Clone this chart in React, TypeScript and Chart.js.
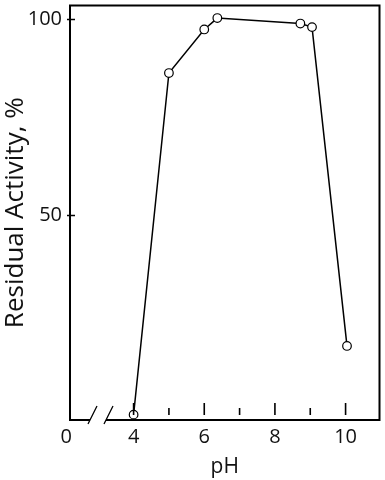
import React, { useEffect, useRef } from "react";
import { Chart, registerables } from "chart.js";

Chart.register(...registerables);

// Data
const phValues = [4.0, 5.0, 6.0, 6.37, 8.72, 9.05, 10.04];
const residualActivity = [-0.8, 86.2, 97.3, 100.2, 98.8, 97.9, 16.7];

// Axis tick definitions
const xTickValues = [2.09, 4, 6, 8, 10];
const xTickLabels = ["0", "4", "6", "8", "10"];
const xMajorMarks = [4, 6, 8, 10];
const xMinorMarks = [5, 7, 9];
const yTickValues = [50, 100];

const FONT = "'Open Sans', 'DejaVu Sans', sans-serif";

const framePlugin = {
  id: "frame",
  afterDraw(chart: any) {
    const { ctx, chartArea } = chart;
    const xs = chart.scales.x;
    const ys = chart.scales.y;
    const { left, right, top, bottom } = chartArea;
    ctx.save();
    ctx.strokeStyle = "#000";
    ctx.lineCap = "butt";

    // frame with a break in the bottom axis
    const b1 = left + 20;
    const b2 = left + 36;
    ctx.lineWidth = 2;
    ctx.beginPath();
    ctx.moveTo(b1, bottom);
    ctx.lineTo(left, bottom);
    ctx.lineTo(left, top);
    ctx.lineTo(right, top);
    ctx.lineTo(right, bottom);
    ctx.lineTo(b2, bottom);
    ctx.stroke();

    // break slashes
    ctx.lineWidth = 1.3;
    ctx.beginPath();
    ctx.moveTo(left + 18, bottom + 4);
    ctx.lineTo(left + 27, bottom - 14);
    ctx.moveTo(left + 34, bottom + 4);
    ctx.lineTo(left + 43, bottom - 14);
    ctx.stroke();

    // y tick marks crossing the axis
    ctx.lineWidth = 1.3;
    ctx.beginPath();
    for (const v of yTickValues) {
      const py = Math.round(ys.getPixelForValue(v)) + 0.5;
      ctx.moveTo(left - 3, py);
      ctx.lineTo(left + 5, py);
    }
    ctx.stroke();

    // x tick marks inside the frame
    ctx.lineWidth = 1.6;
    ctx.beginPath();
    for (const v of xMajorMarks) {
      const px = xs.getPixelForValue(v);
      ctx.moveTo(px, bottom - 17);
      ctx.lineTo(px, bottom - 5);
    }
    for (const v of xMinorMarks) {
      const px = xs.getPixelForValue(v);
      ctx.moveTo(px, bottom - 12);
      ctx.lineTo(px, bottom - 5);
    }
    ctx.stroke();
    ctx.restore();
  },
};

export default function App() {
  const ref = useRef<HTMLCanvasElement | null>(null);

  useEffect(() => {
    if (!ref.current) return;
    const chart = new Chart(ref.current, {
      type: "line",
      data: {
        datasets: [
          {
            data: phValues.map((x, i) => ({ x, y: residualActivity[i] })),
            borderColor: "#000",
            borderWidth: 1.5,
            pointRadius: 4.3,
            pointBorderWidth: 1.2,
            pointBorderColor: "#000",
            pointBackgroundColor: "#fff",
            tension: 0,
            clip: false as any,
          },
        ],
      },
      options: {
        animation: false,
        responsive: false,
        devicePixelRatio: 1,
        layout: { padding: { top: 5, right: 4, left: 0, bottom: 0 } },
        plugins: { legend: { display: false }, tooltip: { enabled: false } },
        scales: {
          x: {
            type: "linear",
            min: 2.2,
            max: 10.96,
            grid: { display: false, drawTicks: false },
            border: { display: false },
            afterBuildTicks: (scale: any) => {
              scale.ticks = xTickValues.map((value) => ({ value }));
            },
            afterFit: (scale: any) => {
              scale.height = 60;
              scale.paddingLeft = 0;
              scale.paddingRight = 0;
            },
            ticks: {
              autoSkip: false,
              maxRotation: 0,
              padding: 5,
              color: "#111",
              font: { family: FONT, size: 20 },
              callback: (_v: any, i: number) => xTickLabels[i],
            },
            title: {
              display: true,
              text: "pH",
              color: "#111",
              font: { family: FONT, size: 21 },
              padding: { top: 0, bottom: 0 },
            },
          },
          y: {
            type: "linear",
            min: -2.16,
            max: 103.4,
            grid: { display: false, drawTicks: false },
            border: { display: false },
            afterBuildTicks: (scale: any) => {
              scale.ticks = yTickValues.map((value) => ({ value }));
            },
            afterFit: (scale: any) => {
              scale.width = 70;
              scale.paddingTop = 0;
              scale.paddingBottom = 0;
            },
            ticks: {
              padding: 8,
              color: "#111",
              font: { family: FONT, size: 20 },
            },
            title: {
              display: true,
              text: "Residual Activity, %",
              color: "#111",
              font: { family: FONT, size: 26 },
              padding: { top: 0, bottom: 0 },
            },
          },
        },
      } as any,
      plugins: [framePlugin],
    });
    return () => chart.destroy();
  }, []);

  return (
    <div style={{ position: "fixed", left: 0, top: 0, width: 385, height: 480, background: "#fff" }}>
      <canvas ref={ref} width={385} height={480} style={{ display: "block" }} />
    </div>
  );
}
